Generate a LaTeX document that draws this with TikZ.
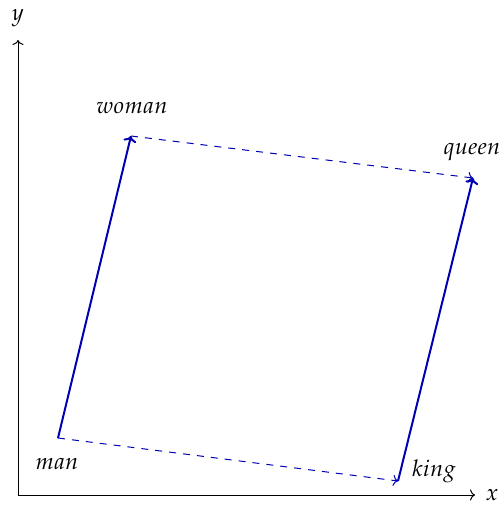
\documentclass[tikz,border=0pt]{standalone}
\usepackage{mathpazo}
\usetikzlibrary{arrows.meta}
\begin{document}
\begin{tikzpicture}[x=1pt,y=-1pt,
  axis/.style={line width=1pt,-{To[length=5pt,width=11pt]}},
  vec/.style={blue!70!black,line width=2pt,-{To[length=6pt,width=13pt]}},
  dvec/.style={blue!70!black,line width=1pt,-{To[length=5pt,width=11pt]},dash pattern=on 7pt off 7pt},
  lbl/.style={font=\fontsize{23}{27}\selectfont,inner sep=0pt}]
\useasboundingbox (0,0) rectangle (501,505);
\coordinate (o) at (18,495);
\coordinate (xe) at (475,495);
\coordinate (ye) at (18,40);
\coordinate (man) at (58,438);
\coordinate (woman) at (131,136);
\coordinate (queen) at (473,178);
\coordinate (king) at (398,481);
\draw[axis] (o) -- (xe);
\draw[axis] (o) -- (ye);
\node[lbl] (xl) at (492,495) {$x$};
\node[lbl] (yl) at (18,18) {$y$};
\draw[vec] (man) -- (woman);
\draw[vec] (king) -- (queen);
\draw[dvec] (man) -- (king);
\draw[dvec] (woman) -- (queen);
\node[lbl] (lw) at (132,108) {$woman$};
\node[lbl] (lq) at (472,152) {$queen$};
\node[lbl] (lm) at (57,464) {$man$};
\node[lbl] (lk) at (434,471) {$king$};
\end{tikzpicture}
\end{document}
